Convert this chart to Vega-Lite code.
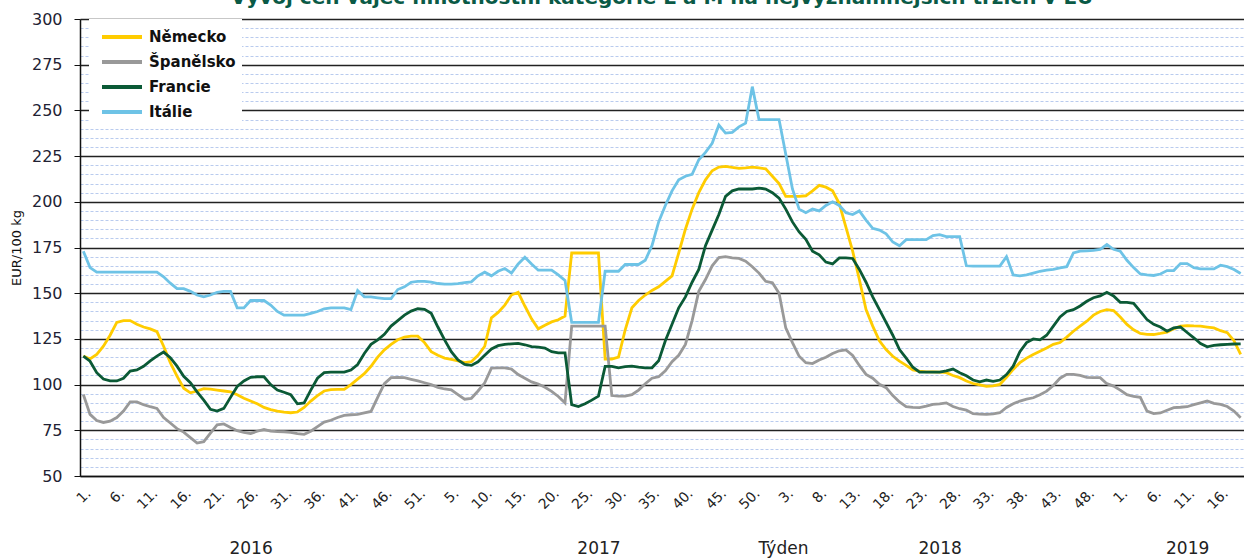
{
  "$schema": "https://vega.github.io/schema/vega-lite/v6.json",
  "width": 1164,
  "height": 457,
  "autosize": {"type": "none"},
  "padding": {"left": 80, "top": 19, "right": 0, "bottom": 84},
  "background": "white",
  "title": {"text": "Vývoj cen vajec hmotnostní kategorie L a M na nejvýznamnějších trzích v EU", "font": "DejaVu Sans", "fontSize": 20, "fontWeight": "bold", "color": "#0a5a46", "baseline": "alphabetic", "offset": 0, "dy": 12.5, "anchor": "middle"},
  "config": {"view": {"stroke": null}, "font": "DejaVu Sans"},
  "data": {"values": [
{"t":"2016-01","Německo":115.6,"Španělsko":94.6,"Francie":115.6,"Itálie":173},
{"t":"2016-02","Německo":114,"Španělsko":83.7,"Francie":112.8,"Itálie":164},
{"t":"2016-03","Německo":116.5,"Španělsko":80.3,"Francie":106.5,"Itálie":161.5},
{"t":"2016-04","Německo":121,"Španělsko":79.3,"Francie":103,"Itálie":161.5},
{"t":"2016-05","Německo":127,"Španělsko":80,"Francie":102,"Itálie":161.5},
{"t":"2016-06","Německo":134,"Španělsko":82,"Francie":102,"Itálie":161.5},
{"t":"2016-07","Německo":135,"Španělsko":85.5,"Francie":103.5,"Itálie":161.5},
{"t":"2016-08","Německo":135,"Španělsko":90.5,"Francie":107.4,"Itálie":161.5},
{"t":"2016-09","Německo":133,"Španělsko":90.5,"Francie":108,"Itálie":161.5},
{"t":"2016-10","Německo":131.5,"Španělsko":89,"Francie":110,"Itálie":161.5},
{"t":"2016-11","Německo":130.5,"Španělsko":87.9,"Francie":113,"Itálie":161.5},
{"t":"2016-12","Německo":129,"Španělsko":87,"Francie":115.6,"Itálie":161.5},
{"t":"2016-13","Německo":121,"Španělsko":82,"Francie":117.8,"Itálie":159},
{"t":"2016-14","Německo":112,"Španělsko":79,"Francie":114.7,"Itálie":155.5},
{"t":"2016-15","Německo":104.6,"Španělsko":75.9,"Francie":110.1,"Itálie":152.5},
{"t":"2016-16","Německo":98,"Španělsko":74,"Francie":104.5,"Itálie":152.5},
{"t":"2016-17","Německo":95.5,"Španělsko":71,"Francie":101,"Itálie":151},
{"t":"2016-18","Německo":96.5,"Španělsko":68,"Francie":96,"Itálie":149},
{"t":"2016-19","Německo":97.8,"Španělsko":68.8,"Francie":91.5,"Itálie":148},
{"t":"2016-20","Německo":97.5,"Španělsko":73.5,"Francie":86.5,"Itálie":149},
{"t":"2016-21","Německo":97,"Španělsko":78,"Francie":85.5,"Itálie":150.5},
{"t":"2016-22","Německo":96.5,"Španělsko":78.5,"Francie":87,"Itálie":151},
{"t":"2016-23","Německo":96,"Španělsko":76.5,"Francie":93,"Itálie":151},
{"t":"2016-24","Německo":94.5,"Španělsko":74.8,"Francie":99,"Itálie":142},
{"t":"2016-25","Německo":92.5,"Španělsko":73.8,"Francie":102,"Itálie":142},
{"t":"2016-26","Německo":91,"Španělsko":73.2,"Francie":104,"Itálie":146},
{"t":"2016-27","Německo":89.5,"Španělsko":74.5,"Francie":104.3,"Itálie":146},
{"t":"2016-28","Německo":87.5,"Španělsko":75.5,"Francie":104.3,"Itálie":146},
{"t":"2016-29","Německo":86.3,"Španělsko":74.5,"Francie":100,"Itálie":143.5},
{"t":"2016-30","Německo":85.5,"Španělsko":74.3,"Francie":97,"Itálie":140},
{"t":"2016-31","Německo":85,"Španělsko":74.2,"Francie":95.8,"Itálie":138},
{"t":"2016-32","Německo":84.6,"Španělsko":73.9,"Francie":94.5,"Itálie":138},
{"t":"2016-33","Německo":85,"Španělsko":73.2,"Francie":89.5,"Itálie":138},
{"t":"2016-34","Německo":87.5,"Španělsko":72.8,"Francie":90,"Itálie":138},
{"t":"2016-35","Německo":91,"Španělsko":74.5,"Francie":97,"Itálie":139},
{"t":"2016-36","Německo":94,"Španělsko":77,"Francie":103.5,"Itálie":140},
{"t":"2016-37","Německo":96.5,"Španělsko":79.5,"Francie":106.5,"Itálie":141.5},
{"t":"2016-38","Německo":97.2,"Španělsko":80.5,"Francie":106.8,"Itálie":142},
{"t":"2016-39","Německo":97.4,"Španělsko":82,"Francie":106.8,"Itálie":142},
{"t":"2016-40","Německo":97.4,"Španělsko":83.2,"Francie":106.8,"Itálie":142},
{"t":"2016-41","Německo":100,"Španělsko":83.5,"Francie":108,"Itálie":141},
{"t":"2016-42","Německo":103,"Španělsko":83.7,"Francie":111,"Itálie":151.5},
{"t":"2016-43","Německo":106,"Španělsko":84.5,"Francie":117,"Itálie":148},
{"t":"2016-44","Německo":110,"Španělsko":85.3,"Francie":122,"Itálie":148},
{"t":"2016-45","Německo":115,"Španělsko":93,"Francie":124.5,"Itálie":147.5},
{"t":"2016-46","Německo":119,"Španělsko":100.5,"Francie":127.5,"Itálie":147},
{"t":"2016-47","Německo":122,"Španělsko":103.8,"Francie":132,"Itálie":147},
{"t":"2016-48","Německo":124.5,"Španělsko":104,"Francie":135,"Itálie":152},
{"t":"2016-49","Německo":126,"Španělsko":103.8,"Francie":138,"Itálie":153.5},
{"t":"2016-50","Německo":126.5,"Španělsko":102.9,"Francie":140.2,"Itálie":156},
{"t":"2016-51","Německo":126.5,"Španělsko":102,"Francie":141.5,"Itálie":156.5},
{"t":"2017-01","Německo":123,"Španělsko":101,"Francie":141.2,"Itálie":156.5},
{"t":"2017-02","Německo":118,"Španělsko":100,"Francie":139,"Itálie":156},
{"t":"2017-03","Německo":116,"Španělsko":98.5,"Francie":131.5,"Itálie":155.3},
{"t":"2017-04","Německo":114.5,"Španělsko":97.6,"Francie":124.5,"Itálie":155},
{"t":"2017-05","Německo":113.8,"Španělsko":97.1,"Francie":118,"Itálie":155},
{"t":"2017-06","Německo":113,"Španělsko":94.5,"Francie":113.5,"Itálie":155.2},
{"t":"2017-07","Německo":112,"Španělsko":92,"Francie":111,"Itálie":155.8},
{"t":"2017-08","Německo":112.5,"Španělsko":92.5,"Francie":110.5,"Itálie":156.2},
{"t":"2017-09","Německo":116,"Španělsko":96.5,"Francie":112.5,"Itálie":159.5},
{"t":"2017-10","Německo":121,"Španělsko":101,"Francie":116,"Itálie":161.5},
{"t":"2017-11","Německo":136.5,"Španělsko":109,"Francie":119.5,"Itálie":159.5},
{"t":"2017-12","Německo":139.5,"Španělsko":109.2,"Francie":121.3,"Itálie":162},
{"t":"2017-13","Německo":143.5,"Španělsko":109.2,"Francie":122,"Itálie":163.5},
{"t":"2017-14","Německo":149,"Španělsko":108.5,"Francie":122.3,"Itálie":161},
{"t":"2017-15","Německo":150.5,"Španělsko":105.5,"Francie":122.5,"Itálie":166},
{"t":"2017-16","Německo":143,"Španělsko":103.5,"Francie":121.8,"Itálie":169.7},
{"t":"2017-17","Německo":136,"Španělsko":101.5,"Francie":120.8,"Itálie":166},
{"t":"2017-18","Německo":130.5,"Španělsko":100.3,"Francie":120.5,"Itálie":162.6},
{"t":"2017-19","Německo":132.5,"Španělsko":98.5,"Francie":120,"Itálie":162.6},
{"t":"2017-20","Německo":134.3,"Španělsko":96.3,"Francie":118,"Itálie":162.6},
{"t":"2017-21","Německo":135.5,"Španělsko":93.5,"Francie":117.4,"Itálie":160},
{"t":"2017-22","Německo":137.5,"Španělsko":90,"Francie":117.4,"Itálie":157},
{"t":"2017-23","Německo":172,"Španělsko":132,"Francie":89,"Itálie":134},
{"t":"2017-24","Německo":172,"Španělsko":132,"Francie":88,"Itálie":134},
{"t":"2017-25","Německo":172,"Španělsko":132,"Francie":89.5,"Itálie":134},
{"t":"2017-26","Německo":172,"Španělsko":132,"Francie":91.5,"Itálie":134},
{"t":"2017-27","Německo":172,"Španělsko":132,"Francie":93.7,"Itálie":134},
{"t":"2017-28","Německo":114,"Španělsko":132,"Francie":110,"Itálie":162},
{"t":"2017-29","Německo":114,"Španělsko":94,"Francie":110,"Itálie":162},
{"t":"2017-30","Německo":115,"Španělsko":93.7,"Francie":109.2,"Itálie":162},
{"t":"2017-31","Německo":130,"Španělsko":93.7,"Francie":109.8,"Itálie":165.7},
{"t":"2017-32","Německo":142,"Španělsko":94.5,"Francie":110.1,"Itálie":165.7},
{"t":"2017-33","Německo":146,"Španělsko":97,"Francie":109.5,"Itálie":165.7},
{"t":"2017-34","Německo":149,"Španělsko":100.5,"Francie":109.2,"Itálie":168},
{"t":"2017-35","Německo":151.5,"Španělsko":103.5,"Francie":109.2,"Itálie":176},
{"t":"2017-36","Německo":153.5,"Španělsko":104.3,"Francie":113,"Itálie":189},
{"t":"2017-37","Německo":156.5,"Španělsko":107.5,"Francie":124,"Itálie":198},
{"t":"2017-38","Německo":159.5,"Španělsko":112.5,"Francie":133,"Itálie":206},
{"t":"2017-39","Německo":172,"Španělsko":116,"Francie":142,"Itálie":212},
{"t":"2017-40","Německo":185,"Španělsko":122,"Francie":148,"Itálie":214},
{"t":"2017-41","Německo":196,"Španělsko":135,"Francie":156,"Itálie":215},
{"t":"2017-42","Německo":205,"Španělsko":151,"Francie":163,"Itálie":223},
{"t":"2017-43","Německo":212,"Španělsko":157.5,"Francie":176,"Itálie":227},
{"t":"2017-44","Německo":217,"Španělsko":165,"Francie":184.5,"Itálie":232},
{"t":"2017-45","Německo":219,"Španělsko":169.5,"Francie":193,"Itálie":242},
{"t":"2017-46","Německo":219.4,"Španělsko":170,"Francie":203,"Itálie":237.6},
{"t":"2017-47","Německo":218.8,"Španělsko":169.3,"Francie":206,"Itálie":238},
{"t":"2017-48","Německo":218.3,"Španělsko":169,"Francie":207,"Itálie":241},
{"t":"2017-49","Německo":218.6,"Španělsko":167.5,"Francie":207,"Itálie":243},
{"t":"2017-50","Německo":219,"Španělsko":164.5,"Francie":207,"Itálie":263},
{"t":"2017-51","Německo":218.5,"Španělsko":161,"Francie":207.5,"Itálie":245},
{"t":"2017-52","Německo":218,"Španělsko":156.5,"Francie":207,"Itálie":245},
{"t":"2018-01","Německo":214,"Španělsko":155.7,"Francie":205,"Itálie":245},
{"t":"2018-02","Německo":210,"Španělsko":150,"Francie":202,"Itálie":245},
{"t":"2018-03","Německo":203,"Španělsko":131,"Francie":196,"Itálie":226},
{"t":"2018-04","Německo":203,"Španělsko":123,"Francie":189,"Itálie":207},
{"t":"2018-05","Německo":203,"Španělsko":115.5,"Francie":183.5,"Itálie":196},
{"t":"2018-06","Německo":203.3,"Španělsko":112,"Francie":179.5,"Itálie":194},
{"t":"2018-07","Německo":206,"Španělsko":111.5,"Francie":173,"Itálie":196},
{"t":"2018-08","Německo":209,"Španělsko":113.5,"Francie":171,"Itálie":195},
{"t":"2018-09","Německo":208,"Španělsko":115,"Francie":167,"Itálie":198},
{"t":"2018-10","Německo":206,"Španělsko":117,"Francie":166,"Itálie":200},
{"t":"2018-11","Německo":199,"Španělsko":118.5,"Francie":169.3,"Itálie":198},
{"t":"2018-12","Německo":186,"Španělsko":119,"Francie":169.3,"Itálie":194},
{"t":"2018-13","Německo":173,"Španělsko":116,"Francie":169,"Itálie":193},
{"t":"2018-14","Německo":157.5,"Španělsko":110.5,"Francie":163,"Itálie":195},
{"t":"2018-15","Německo":141,"Španělsko":105.6,"Francie":156,"Itálie":190},
{"t":"2018-16","Německo":132,"Španělsko":103.5,"Francie":148,"Itálie":185.5},
{"t":"2018-17","Německo":124,"Španělsko":100.2,"Francie":141,"Itálie":184.5},
{"t":"2018-18","Německo":119.2,"Španělsko":98.3,"Francie":134,"Itálie":182.5},
{"t":"2018-19","Německo":115.5,"Španělsko":94,"Francie":127,"Itálie":178},
{"t":"2018-20","Německo":112.8,"Španělsko":90.5,"Francie":119.2,"Itálie":176},
{"t":"2018-21","Německo":110.5,"Španělsko":88,"Francie":114.5,"Itálie":179.3},
{"t":"2018-22","Německo":108,"Španělsko":87.5,"Francie":109.5,"Itálie":179.3},
{"t":"2018-23","Německo":107.4,"Španělsko":87.4,"Francie":106.8,"Itálie":179.3},
{"t":"2018-24","Německo":107,"Španělsko":88.2,"Francie":106.8,"Itálie":179.3},
{"t":"2018-25","Německo":107,"Španělsko":89.2,"Francie":106.8,"Itálie":181.5},
{"t":"2018-26","Německo":106.8,"Španělsko":89.5,"Francie":106.8,"Itálie":182},
{"t":"2018-27","Německo":106.5,"Španělsko":90,"Francie":107.5,"Itálie":181},
{"t":"2018-28","Německo":105,"Španělsko":88,"Francie":108.5,"Itálie":181},
{"t":"2018-29","Německo":103.8,"Španělsko":86.8,"Francie":106.5,"Itálie":181},
{"t":"2018-30","Německo":102,"Španělsko":86,"Francie":104.8,"Itálie":165},
{"t":"2018-31","Německo":100.6,"Španělsko":84.1,"Francie":102.5,"Itálie":164.8},
{"t":"2018-32","Německo":99.8,"Španělsko":83.9,"Francie":101.5,"Itálie":164.8},
{"t":"2018-33","Německo":99,"Španělsko":83.7,"Francie":102.5,"Itálie":164.8},
{"t":"2018-34","Německo":99.3,"Španělsko":84,"Francie":101.8,"Itálie":164.8},
{"t":"2018-35","Německo":100.1,"Španělsko":84.6,"Francie":102.5,"Itálie":164.8},
{"t":"2018-36","Německo":104,"Španělsko":87.5,"Francie":105.5,"Itálie":170},
{"t":"2018-37","Německo":108.3,"Španělsko":89.5,"Francie":110.1,"Itálie":160},
{"t":"2018-38","Německo":112,"Španělsko":91,"Francie":118,"Itálie":159.5},
{"t":"2018-39","Německo":114.5,"Španělsko":92,"Francie":123,"Itálie":160},
{"t":"2018-40","Německo":116.5,"Španělsko":92.8,"Francie":125,"Itálie":161},
{"t":"2018-41","Německo":118.3,"Španělsko":94.5,"Francie":124.5,"Itálie":162},
{"t":"2018-42","Německo":120,"Španělsko":96.4,"Francie":127,"Itálie":162.6},
{"t":"2018-43","Německo":122,"Španělsko":99.5,"Francie":132,"Itálie":163},
{"t":"2018-44","Německo":123,"Španělsko":103.5,"Francie":137,"Itálie":163.8},
{"t":"2018-45","Německo":126,"Španělsko":105.6,"Francie":140,"Itálie":164.5},
{"t":"2018-46","Německo":129.2,"Španělsko":105.6,"Francie":141,"Itálie":172},
{"t":"2018-47","Německo":132,"Španělsko":105,"Francie":143,"Itálie":173},
{"t":"2018-48","Německo":134.7,"Španělsko":104,"Francie":145.6,"Itálie":173.2},
{"t":"2018-49","Německo":138,"Španělsko":103.8,"Francie":147.5,"Itálie":173.4},
{"t":"2018-50","Německo":140,"Španělsko":103.8,"Francie":148.5,"Itálie":174},
{"t":"2018-51","Německo":141,"Španělsko":100.5,"Francie":150.5,"Itálie":176.6},
{"t":"2018-52","Německo":140.5,"Španělsko":99.2,"Francie":148.5,"Itálie":174},
{"t":"2019-01","Německo":137,"Španělsko":97,"Francie":145,"Itálie":173},
{"t":"2019-02","Německo":132.9,"Španělsko":94.5,"Francie":145,"Itálie":168},
{"t":"2019-03","Německo":130,"Španělsko":93.5,"Francie":144.5,"Itálie":164},
{"t":"2019-04","Německo":128,"Španělsko":93,"Francie":140,"Itálie":160.5},
{"t":"2019-05","Německo":127.5,"Španělsko":85.5,"Francie":135.6,"Itálie":160},
{"t":"2019-06","Německo":127.4,"Španělsko":84.1,"Francie":133,"Itálie":159.7},
{"t":"2019-07","Německo":128,"Španělsko":84.5,"Francie":131.5,"Itálie":160.5},
{"t":"2019-08","Německo":128.7,"Španělsko":86,"Francie":129.2,"Itálie":162.4},
{"t":"2019-09","Německo":130.5,"Španělsko":87.4,"Francie":131,"Itálie":162.4},
{"t":"2019-10","Německo":132,"Španělsko":87.6,"Francie":131.5,"Itálie":166.2},
{"t":"2019-11","Německo":132.3,"Španělsko":87.9,"Francie":128.5,"Itálie":166.2},
{"t":"2019-12","Německo":132.1,"Španělsko":89,"Francie":125.6,"Itálie":164},
{"t":"2019-13","Německo":132,"Španělsko":90,"Francie":122.5,"Itálie":163.3},
{"t":"2019-14","Německo":131.5,"Španělsko":91,"Francie":120.7,"Itálie":163.3},
{"t":"2019-15","Německo":131,"Španělsko":89.7,"Francie":121.4,"Itálie":163.3},
{"t":"2019-16","Německo":129.5,"Španělsko":89.2,"Francie":121.8,"Itálie":165.3},
{"t":"2019-17","Německo":128.4,"Španělsko":88,"Francie":122,"Itálie":164.5},
{"t":"2019-18","Německo":124,"Španělsko":85.5,"Francie":122.2,"Itálie":163},
{"t":"2019-19","Německo":116.5,"Španělsko":81.9,"Francie":122.3,"Itálie":160.8}
  ]},
  "layer": [
    {
      "transform": [{"fold": ["Německo", "Španělsko", "Francie", "Itálie"], "as": ["země", "cena"]}],
      "mark": {"type": "line", "strokeWidth": 2.8},
      "encoding": {
        "x": {"field": "t", "type": "ordinal", "axis": {
          "orient": "bottom",
          "title": null,
          "values": ["2016-01","2016-06","2016-11","2016-16","2016-21","2016-26","2016-31","2016-36","2016-41","2016-46","2016-51","2017-05","2017-10","2017-15","2017-20","2017-25","2017-30","2017-35","2017-40","2017-45","2017-50","2018-03","2018-08","2018-13","2018-18","2018-23","2018-28","2018-33","2018-38","2018-43","2018-48","2019-01","2019-06","2019-11","2019-16"],
          "labelExpr": "parseInt(slice(datum.value, 5)) + '.'",
          "labelAngle": -45,
          "labelFont": "DejaVu Sans",
          "labelFontSize": 14,
          "labelColor": "#222222",
          "labelPadding": 10,
          "ticks": false,
          "grid": false,
          "domainColor": "#111111",
          "domainWidth": 1.5
        }},
        "y": {"field": "cena", "type": "quantitative",
          "scale": {"domain": [50, 300], "nice": false, "zero": false},
          "axis": {
            "title": "EUR/100 kg",
            "titleFont": "DejaVu Sans",
            "titleFontSize": 13,
            "titleFontWeight": "normal",
            "titleColor": "#111111",
            "titlePadding": 8,
            "values": [50,55,60,65,70,75,80,85,90,95,100,105,110,115,120,125,130,135,140,145,150,155,160,165,170,175,180,185,190,195,200,205,210,215,220,225,230,235,240,245,250,255,260,265,270,275,280,285,290,295,300],
            "labelExpr": "datum.value % 25 === 0 ? datum.value : ''",
            "labelFont": "DejaVu Sans",
            "labelFontSize": 16,
            "labelColor": "#222233",
            "labelPadding": 12,
            "tickSize": 6,
            "tickColor": "#111111",
            "tickOpacity": {"condition": {"test": "datum.value % 25 === 0", "value": 1}, "value": 0},
            "domainColor": "#111111",
            "domainWidth": 1.5,
            "grid": true,
            "gridColor": {"condition": {"test": "datum.value % 25 === 0", "value": "#222222"}, "value": "#b9cbee"},
            "gridWidth": {"condition": {"test": "datum.value % 25 === 0", "value": 1.5}, "value": 1},
            "gridDash": {"condition": {"test": "datum.value % 25 === 0", "value": []}, "value": [3, 2]},
            "gridOpacity": 1
          }},
        "color": {"field": "země", "type": "nominal",
          "scale": {"domain": ["Německo", "Španělsko", "Francie", "Itálie"], "range": ["#FFCC00", "#999999", "#0B5A36", "#6EC3E6"]},
          "sort": ["Německo", "Španělsko", "Francie", "Itálie"],
          "legend": {
            "orient": "none", "legendX": 9, "legendY": 0,
            "title": null, "fillColor": "white", "padding": 6,
            "symbolType": "M-0.5,0H3.5", "symbolSize": 400, "symbolStrokeWidth": 4,
            "labelOffset": 30, "rowPadding": 5,
            "labelFont": "DejaVu Sans", "labelFontSize": 15, "labelFontWeight": "bold", "labelColor": "#111111"
          }}
      }
    },
    {
      "mark": {"type": "point", "opacity": 0},
      "encoding": {
        "x": {"field": "t", "type": "ordinal", "axis": {
          "orient": "bottom",
          "offset": 62,
          "values": ["2016-26", "2017-27", "2018-26", "2019-11"],
          "labelExpr": "slice(datum.value, 0, 4)",
          "labelAngle": 0,
          "labelFont": "DejaVu Sans",
          "labelFontSize": 17,
          "labelColor": "#222222",
          "labelPadding": 2,
          "ticks": false,
          "domain": false,
          "grid": false,
          "title": "Týden",
          "titleFont": "DejaVu Sans",
          "titleFontSize": 17,
          "titleFontWeight": "normal",
          "titleColor": "#222222",
          "titleX": 703,
          "titleY": 2,
          "titleBaseline": "top",
          "titleAlign": "center"
        }}
      }
    }
  ],
  "resolve": {"axis": {"x": "independent"}}
}
